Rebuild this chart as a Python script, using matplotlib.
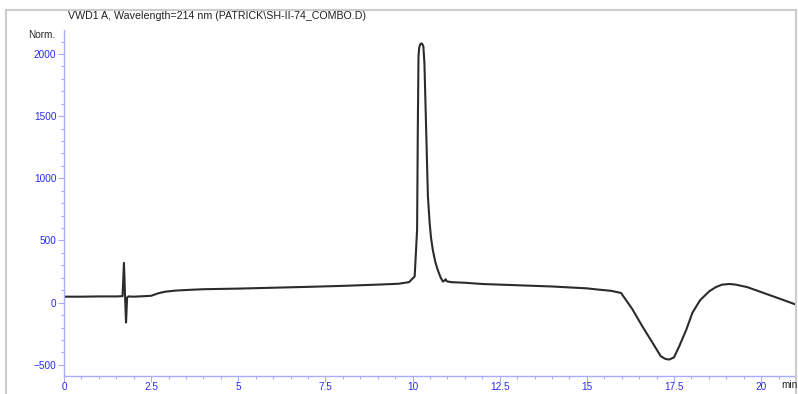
import matplotlib.pyplot as plt
from matplotlib.lines import Line2D
from matplotlib.ticker import MultipleLocator

plt.rcParams['font.family'] = ['Liberation Sans', 'DejaVu Sans']

# retention time (min) and detector signal (mAU) of the VWD1 A trace
time_min = [0.0, 0.5, 1.0, 1.5, 1.68, 1.72, 1.75, 1.78, 1.81, 1.85, 2.0, 2.3, 2.5,
            2.7, 2.9, 3.2, 3.6, 4.0, 5.0, 6.0, 7.0, 8.0, 9.0, 9.6, 9.9, 10.06,
            10.13, 10.15, 10.17, 10.19, 10.22, 10.25, 10.28, 10.31, 10.34,
            10.39, 10.44, 10.49, 10.53, 10.58, 10.65, 10.72, 10.8, 10.87,
            10.92, 10.95, 10.98, 11.1, 11.5, 12.0, 13.0, 14.0, 15.0, 15.36,
            15.7, 15.98, 16.3, 16.59, 16.9, 17.12, 17.25, 17.36, 17.5, 17.65,
            17.85, 18.03, 18.25, 18.51, 18.7, 18.88, 19.1, 19.27, 19.6, 19.94,
            20.3, 20.7, 21.0]
signal = [48, 48, 50, 50, 52, 320, 60, -160, 40, 50, 48, 52, 55,
          75, 88, 97, 103, 108, 113, 120, 127, 135, 145, 152, 165, 211,
          586, 1390, 1980, 2050, 2078, 2085, 2080, 2060, 1925,
          1390, 855, 640, 520, 425, 330, 265, 205, 170,
          178, 188, 172, 165, 160, 150, 140, 130, 115, 104,
          95, 78, -50, -190, -330, -431, -452, -458, -440, -351,
          -220, -80, 20, 91, 125, 145, 150, 145, 125, 91,
          55, 15, -16]

x_major = 2.5
y_major = 500
axis_blue = '#aaaaff'
label_blue = '#2a2af0'

fig = plt.figure(figsize=(7.98, 3.94), dpi=100)
ax = fig.add_axes([64 / 798, 18 / 394, 732 / 798, 346 / 394])

ax.plot(time_min, signal, color='#2b2b2b', linewidth=1.5)

ax.set_xlim(0, 21)
ax.set_ylim(-590, 2193)

ax.xaxis.set_major_locator(MultipleLocator(x_major))
ax.xaxis.set_minor_locator(MultipleLocator(0.5))
ax.yaxis.set_major_locator(MultipleLocator(y_major))
ax.yaxis.set_minor_locator(MultipleLocator(100))
ax.xaxis.set_major_formatter(lambda v, p: f'{v:g}')

for side in ['top', 'right']:
    ax.spines[side].set_visible(False)
for side in ['left', 'bottom']:
    ax.spines[side].set_color(axis_blue)
    ax.spines[side].set_linewidth(1.0)

ax.tick_params(which='major', length=4, width=0.8, color=axis_blue,
               labelcolor=label_blue, labelsize=7.2, pad=1.5)
ax.tick_params(axis='x', which='major', pad=0.5)
ax.tick_params(which='minor', length=2.5, width=0.8, color=axis_blue)

# outer grey frame
frame_kw = dict(color='#cccccc', linewidth=1.5, transform=fig.transFigure)
fig.add_artist(Line2D([6 / 798, 796 / 798], [1 - 10 / 394, 1 - 10 / 394], **frame_kw))
fig.add_artist(Line2D([6 / 798, 6 / 798], [0, 1 - 10 / 394], **frame_kw))
fig.add_artist(Line2D([796 / 798, 796 / 798], [0, 1 - 10 / 394], **frame_kw))

fig.text(68 / 798, 1 - 16 / 394,
         'VWD1 A, Wavelength=214 nm (PATRICK\\SH-II-74_COMBO.D)',
         fontsize=7.7, va='center', ha='left', color='#222222')
fig.text(55 / 798, 1 - 35 / 394, 'Norm.', fontsize=7.2, va='center', ha='right',
         color='#222222')
fig.text(781 / 798, 1 - 385 / 394, 'min', fontsize=7.2, va='center', ha='left',
         color='#222222')

fig.savefig('out.png', dpi=100)
